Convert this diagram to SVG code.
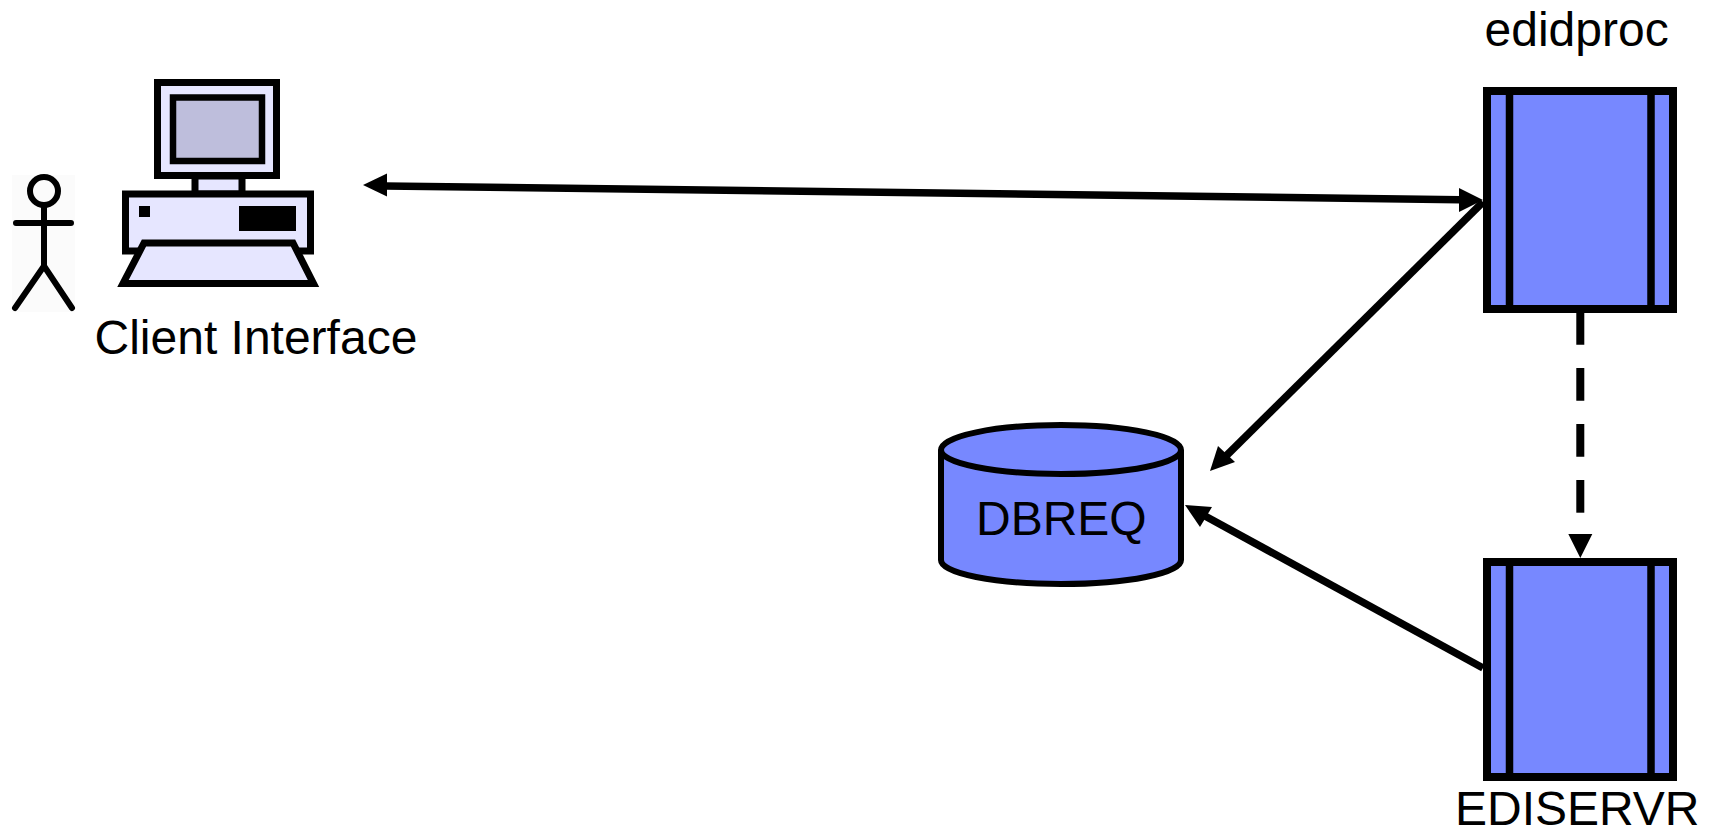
<svg xmlns="http://www.w3.org/2000/svg" width="1711" height="830" viewBox="0 0 1711 830">
<style>
text{font-family:"Liberation Sans",Arial,sans-serif;font-size:48px;fill:#000}
.k{stroke:#000;fill:none}
.lav{fill:#e6e6ff;stroke:#000;stroke-width:7;stroke-linejoin:miter}
.proc{fill:#7788ff;stroke:#000;stroke-width:8}
.bar{stroke:#000;stroke-width:7.500;fill:none}
.conn{stroke:#000;stroke-width:7.500;fill:none}
.head{fill:#000;stroke:none}
</style>
<rect width="1711" height="830" fill="#fff"/>
<g id="actor">
<rect x="12" y="175" width="63" height="137" fill="#fbfbfb"/>
<g class="k" stroke-width="6" stroke-linecap="round">
<circle cx="44" cy="191" r="14"/>
<path d="M44 206V266M16 223H71"/>
<path d="M44 266L15 308M44 266L72 308"/>
</g>
</g>
<g id="client">
<rect class="lav" x="157.500" y="82.500" width="119" height="93"/>
<rect x="173" y="97.500" width="89" height="63.500" fill="#bebedc" stroke="#000" stroke-width="6.500"/>
<rect class="lav" x="195" y="176" width="47" height="18"/>
<rect class="lav" x="125.500" y="194" width="185" height="57"/>
<rect x="139" y="206" width="11" height="11" fill="#000"/>
<rect x="239" y="206" width="57" height="25" fill="#000"/>
<path class="lav" d="M144 243H293L313.500 283.500H123Z"/>
<text x="94.500" y="354">Client Interface</text>
</g>
<g id="edidproc">
<rect class="proc" x="1487" y="91" width="186" height="218"/>
<path class="bar" d="M1509.500 91V309M1651 91V309"/>
<text x="1484.500" y="45.500">edidproc</text>
</g>
<g id="ediservr">
<rect class="proc" x="1487" y="562" width="186" height="215"/>
<path class="bar" d="M1509.500 562V777M1651 562V777"/>
<text x="1455" y="825">EDISERVR</text>
</g>
<g id="dbreq">
<path d="M941 450V560A120 24 0 0 0 1181 560V450A120 25 0 0 0 941 450Z" fill="#7788ff" stroke="#000" stroke-width="6"/>
<path d="M941 450A120 24 0 0 0 1181 450" fill="none" stroke="#000" stroke-width="6"/>
<text x="976" y="535">DBREQ</text>
</g>
<g id="connectors">
<path class="conn" d="M385 186L1460 199.700"/>
<path class="head" d="M363 185L387 173.500V196.500Z"/>
<path class="head" d="M1483 200L1459 212V188Z"/>
<path class="conn" d="M1483 202L1226 456"/>
<path class="head" d="M1210 471L1218 446L1235 462Z"/>
<path class="conn" d="M1483 668L1205 516"/>
<path class="head" d="M1185 505L1212 507L1200 527Z"/>
<path d="M1580.300 312V513" stroke="#000" stroke-width="8" stroke-dasharray="32.700 23.300" fill="none"/>
<path class="head" d="M1580.300 558L1568.300 534H1592.300Z"/>
</g>
</svg>
